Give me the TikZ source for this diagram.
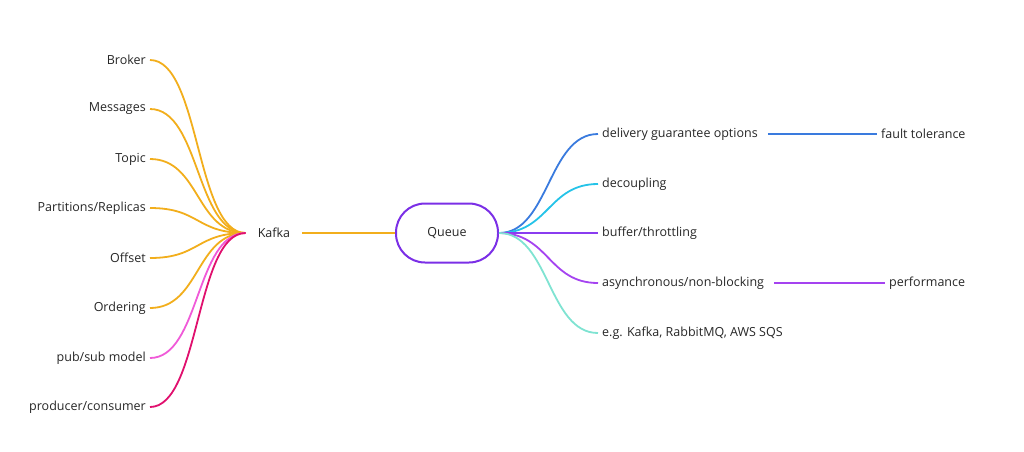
\documentclass[tikz,border=0pt]{standalone}
\usepackage{fontspec}
\setmainfont{Open Sans}
\definecolor{cor}{HTML}{F2AE1C}
\definecolor{cpk}{HTML}{F05AD8}
\definecolor{ccr}{HTML}{E0106E}
\definecolor{cbl}{HTML}{3A7BDE}
\definecolor{ccy}{HTML}{25C3E8}
\definecolor{cpu}{HTML}{8A3CF0}
\definecolor{cpv}{HTML}{A543F0}
\definecolor{caq}{HTML}{7FE3D2}
\definecolor{cq}{HTML}{7B2FE6}
\begin{document}
\begin{tikzpicture}[x=1pt,y=-1pt,font=\fontsize{12.5}{15}\selectfont,
  lab/.style={inner xsep=4pt,inner ysep=2pt,text=black!85},
  br/.style={line width=1.8pt}]
\useasboundingbox (0,0) rectangle (1024,451);
\node[draw=cq,line width=2pt,rounded corners=29pt,minimum width=102pt,minimum height=59pt,text=black!85] (queue) at (447,233) {Queue};
\node[inner xsep=12pt,text=black!85] (kafka) at (274,233) {Kafka};
\draw[br,cor] (kafka.east) -- (queue.west);
% left
\foreach \n/\t/\y/\c in {broker/Broker/60/cor, messages/Messages/109/cor, topic/Topic/159/cor, parts/Partitions\slash Replicas/208/cor, offset/Offset/258/cor, ordering/Ordering/308/cor, pubsub/pub\slash sub model/358/cpk, prodcons/producer\slash consumer/407/ccr}{
  \node[lab,anchor=east] (\n) at (150,\y) {\t};
  \draw[br,\c] (kafka.west) .. controls +(-50,0) and +(50,0) .. (\n.east);
}
% right
\foreach \n/\t/\y/\c in {deliv/delivery guarantee options/134/cbl, decoup/decoupling/184/ccy, buffer/buffer\slash throttling/233/cpu, async/asynchronous\slash non-blocking/283/cpv, eg/{e.g. Kafka, RabbitMQ, AWS SQS}/333/caq}{
  \node[lab,anchor=west] (\n) at (598,\y) {\t};
  \draw[br,\c] (queue.east) .. controls +(50,0) and +(-50,0) .. (\n.west);
}
\node[lab,anchor=west] (fault) at (877,134) {fault tolerance};
\draw[br,cbl] ([xshift=6pt]deliv.east) -- (fault.west);
\node[lab,anchor=west] (perf) at (885,283) {performance};
\draw[br,cpv] ([xshift=6pt]async.east) -- (perf.west);
\end{tikzpicture}
\end{document}
